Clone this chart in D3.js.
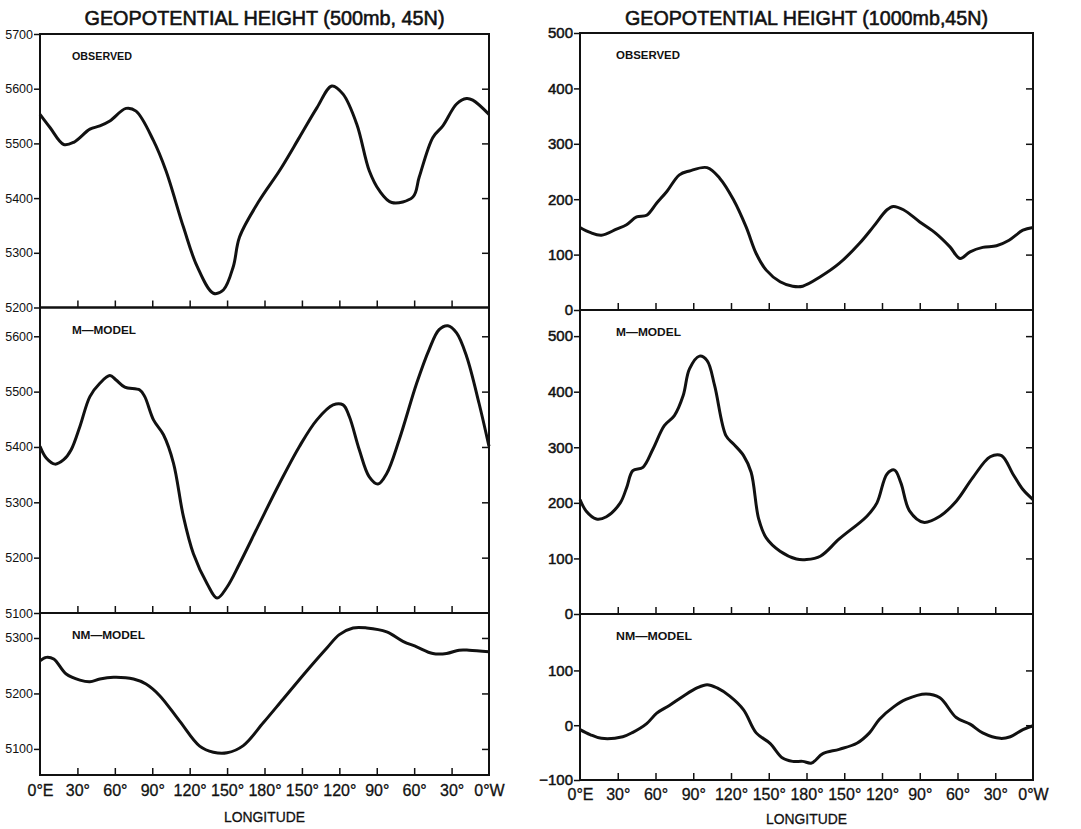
<!DOCTYPE html>
<html>
<head>
<meta charset="utf-8">
<script src="https://cdn.jsdelivr.net/npm/d3@7"></script>
<style>
  html, body { margin: 0; padding: 0; background: #fff; }
  svg { display: block; }
  text { fill: #111; }
</style>
</head>
<body>
<svg id="chart" width="1081" height="829"></svg>
<script>
// Longitude runs from 0°E eastward across the date line to 0°W (0..360 degrees east).
const lonTickValues = [0, 30, 60, 90, 120, 150, 180, 210, 240, 270, 300, 330, 360];
const lonTickLabels = ["0°E", "30°", "60°", "90°", "120°", "150°", "180°", "150°", "120°", "90°", "60°", "30°", "0°W"];

// 500 mb geopotential height (m) at 45N — [longitude east, height]
const observed500 = [
  [0,5553],[8,5529],[19,5498],[27,5502],[40,5526],[48,5532],[56,5541],[69,5564],[77,5559],
  [91,5505],[101,5450],[115,5347],[126,5275],[139,5226],[147,5232],[155,5275],[160,5329],
  [176,5396],[192,5450],[208,5511],[222,5565],[234,5605],[243,5590],[254,5535],[264,5450],
  [272,5414],[282,5392],[299,5402],[304,5438],[315,5511],[323,5532],[334,5572],[342,5582],
  [347,5579],[360,5553]
];
const mModel500 = [
  [0,5401],[5,5380],[12,5369],[19,5377],[25,5395],[32,5437],[40,5491],[48,5515],[56,5529],
  [61,5521],[68,5508],[80,5503],[84,5491],[91,5449],[99,5422],[107,5371],[115,5274],
  [123,5207],[134,5153],[142,5127],[150,5147],[160,5189],[176,5262],[192,5334],[208,5401],
  [222,5449],[235,5476],[243,5476],[248,5455],[256,5395],[264,5346],[271,5333],[278,5352],
  [288,5413],[302,5515],[312,5576],[320,5612],[327,5619],[334,5606],[342,5564],[352,5479],
  [360,5401]
];
const nmModel500 = [
  [0,5259],[5,5265],[11,5262],[21,5235],[32,5224],[40,5221],[48,5226],[59,5229],[75,5226],
  [85,5217],[96,5196],[112,5150],[128,5105],[139,5094],[150,5093],[163,5106],[179,5147],
  [195,5190],[214,5241],[230,5282],[240,5306],[251,5318],[262,5318],[278,5311],[291,5294],
  [302,5284],[315,5272],[326,5272],[336,5278],[344,5278],[360,5275]
];

// 1000 mb geopotential height (m) at 45N
const observed1000 = [
  [0,149],[8,140],[17,135],[29,146],[37,154],[45,168],[53,171],[61,193],[69,214],[79,244],
  [87,251],[101,257],[111,238],[122,199],[132,150],[140,102],[148,72],[159,51],[169,43],
  [177,43],[191,60],[206,84],[222,120],[233,150],[244,181],[249,187],[257,181],[270,159],
  [283,138],[294,114],[302,93],[310,105],[320,113],[331,116],[341,126],[352,144],[360,149]
];
const mModel1000 = [
  [0,206],[5,185],[13,171],[21,175],[32,200],[37,227],[42,258],[50,264],[58,297],[67,339],
  [75,357],[82,393],[87,441],[95,464],[101,456],[107,411],[116,321],[122,306],[130,285],
  [136,255],[142,171],[148,137],[159,113],[172,99],[180,98],[191,104],[206,135],[228,176],
  [236,200],[244,252],[250,259],[255,236],[262,185],[273,165],[286,176],[299,203],[312,245],
  [326,283],[335,285],[344,252],[352,224],[360,206]
];
const nmModel1000 = [
  [0,-8],[8,-17],[17,-24],[34,-21],[42,-13],[53,3],[61,22],[71,36],[82,53],[93,68],[101,74],
  [109,68],[119,53],[130,28],[140,-14],[151,-33],[161,-60],[169,-66],[177,-66],[184,-69],
  [193,-52],[206,-44],[220,-33],[230,-14],[238,11],[249,33],[259,47],[275,57],[286,50],
  [299,14],[310,2],[320,-14],[334,-24],[342,-21],[352,-8],[360,-1]
];

// Y-axis tick values per panel
const ticksObs500 = [5200, 5300, 5400, 5500, 5600, 5700];
const ticksM500 = [5100, 5200, 5300, 5400, 5500, 5600];
const ticksNM500 = [5100, 5200, 5300];
const ticksObs1000 = [0, 100, 200, 300, 400, 500];
const ticksM1000 = [0, 100, 200, 300, 400, 500];
const ticksNM1000 = [-100, 0, 100];

const svg = d3.select("#chart");

const columns = [
  {
    title: "GEOPOTENTIAL HEIGHT (500mb, 45N)",
    titleLen: 360,
    x0: 40, x1: 489,
    yFont: 12.5, yWeight: 0,
    bottom: 775, xLabelY: 796, footY: 822,
    panels: [
      { label: "OBSERVED", labelLen: 60, top: 34, bottom: 307.5, domain: [5200, 5700], ticks: ticksObs500, data: observed500 },
      { label: "M—MODEL", labelLen: 64, top: 307.5, bottom: 613, domain: [5100, 5652], ticks: ticksM500, data: mModel500 },
      { label: "NM—MODEL", labelLen: 73, top: 613, bottom: 775, domain: [5053, 5345], ticks: ticksNM500, data: nmModel500 }
    ]
  },
  {
    title: "GEOPOTENTIAL HEIGHT (1000mb,45N)",
    titleLen: 363,
    x0: 580, x1: 1033,
    yFont: 15, yWeight: 0.5,
    bottom: 780, xLabelY: 800, footY: 824,
    panels: [
      { label: "OBSERVED", labelLen: 64, top: 33, bottom: 310, domain: [0, 500], ticks: ticksObs1000, data: observed1000 },
      { label: "M—MODEL", labelLen: 65, top: 310, bottom: 614, domain: [0, 547], ticks: ticksM1000, data: mModel1000 },
      { label: "NM—MODEL", labelLen: 76, top: 614, bottom: 780, domain: [-100, 203], ticks: ticksNM1000, data: nmModel1000 }
    ]
  }
];

const fontMain = "'Liberation Sans', 'DejaVu Sans', sans-serif";

columns.forEach(col => {
  const x = d3.scaleLinear().domain([0, 360]).range([col.x0, col.x1]);
  const g = svg.append("g");

  // Column title
  g.append("text")
    .attr("x", (col.x0 + col.x1) / 2)
    .attr("y", 25)
    .attr("text-anchor", "middle")
    .attr("font-family", fontMain)
    .attr("font-size", 21)
    .attr("stroke", "#111")
    .attr("stroke-width", 0.6)
    .attr("textLength", col.titleLen)
    .attr("lengthAdjust", "spacingAndGlyphs")
    .text(col.title);

  col.panels.forEach(p => {
    const y = d3.scaleLinear().domain(p.domain).range([p.bottom, p.top]);
    const pg = g.append("g");

    // Curve
    const line = d3.line()
      .x(d => x(d[0]))
      .y(d => y(d[1]))
      .curve(d3.curveCatmullRom.alpha(0.5));
    pg.append("path")
      .datum(p.data)
      .attr("fill", "none")
      .attr("stroke", "#111")
      .attr("stroke-width", 3)
      .attr("stroke-linejoin", "round")
      .attr("d", line);

    // Left axis: labels with short outward ticks
    const left = d3.axisLeft(y).tickValues(p.ticks).tickSize(6).tickPadding(1).tickFormat(d3.format("d"));
    const la = pg.append("g").attr("transform", `translate(${col.x0},0)`).call(left);
    la.select(".domain").remove();
    la.selectAll("line").attr("stroke", "#111").attr("stroke-width", 1.5);
    la.selectAll("text")
      .attr("font-family", fontMain)
      .attr("font-size", col.yFont)
      .attr("fill", "#111")
      .attr("stroke", col.yWeight ? "#111" : "none")
      .attr("stroke-width", col.yWeight);

    // Right edge: inward ticks at interior values
    const inner = p.ticks.filter(v => v > p.domain[0] && v < p.domain[1]);
    const right = d3.axisRight(y).tickValues(inner).tickSize(-7).tickFormat("");
    const ra = pg.append("g").attr("transform", `translate(${col.x1},0)`).call(right);
    ra.select(".domain").remove();
    ra.selectAll("line").attr("stroke", "#111").attr("stroke-width", 1.5);

    // Bottom edge: inward longitude ticks
    const bottom = d3.axisBottom(x).tickValues(lonTickValues.slice(1, -1)).tickSize(-7).tickFormat("");
    const ba = pg.append("g").attr("transform", `translate(0,${p.bottom})`).call(bottom);
    ba.select(".domain").remove();
    ba.selectAll("line").attr("stroke", "#111").attr("stroke-width", 1.5);

    // Frame
    pg.append("rect")
      .attr("x", col.x0).attr("y", p.top)
      .attr("width", col.x1 - col.x0).attr("height", p.bottom - p.top)
      .attr("fill", "none").attr("stroke", "#111").attr("stroke-width", 2);

    // Panel label
    pg.append("text")
      .attr("x", x(0) + (col.x0 < 100 ? 32 : 36))
      .attr("y", p.top + 26)
      .attr("font-family", fontMain)
      .attr("font-size", 10)
      .attr("font-weight", "bold")
      .attr("textLength", p.labelLen)
      .attr("lengthAdjust", "spacingAndGlyphs")
      .text(p.label);
  });

  // Longitude labels under the lowest panel
  const lonAxis = d3.axisBottom(x).tickValues(lonTickValues).tickSize(0).tickPadding(0)
    .tickFormat((d, i) => lonTickLabels[i]);
  const xa = g.append("g").attr("transform", `translate(0,${col.xLabelY})`).call(lonAxis);
  xa.select(".domain").remove();
  xa.selectAll("text")
    .attr("dy", 0)
    .attr("y", 0)
    .attr("font-family", fontMain)
    .attr("font-size", 16)
    .attr("fill", "#111")
    .attr("stroke", "#111")
    .attr("stroke-width", 0.3);

  g.append("text")
    .attr("x", (col.x0 + col.x1) / 2)
    .attr("y", col.footY)
    .attr("text-anchor", "middle")
    .attr("font-family", fontMain)
    .attr("font-size", 14)
    .attr("stroke", "#111")
    .attr("stroke-width", 0.3)
    .attr("textLength", 81)
    .attr("lengthAdjust", "spacingAndGlyphs")
    .text("LONGITUDE");
});
</script>
</body>
</html>
